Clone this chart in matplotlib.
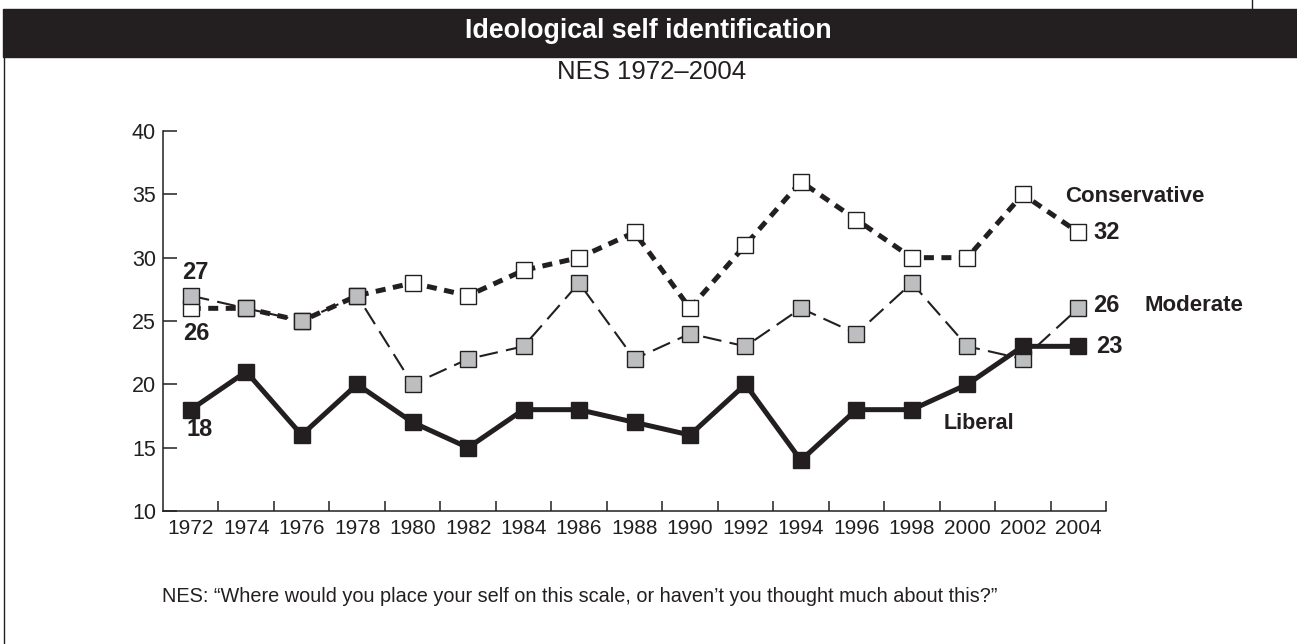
import numpy as np
import matplotlib
matplotlib.use("Agg")
import matplotlib.pyplot as plt
from matplotlib.patches import Rectangle
from matplotlib.lines import Line2D

plt.rcParams['font.family'] = ['Liberation Sans', 'DejaVu Sans']

# data
years = ['1972', '1974', '1976', '1978', '1980', '1982', '1984', '1986', '1988',
         '1990', '1992', '1994', '1996', '1998', '2000', '2002', '2004']
liberal = [18, 21, 16, 20, 17, 15, 18, 18, 17, 16, 20, 14, 18, 18, 20, 23, 23]
moderate = [27, 26, 25, 27, 20, 22, 23, 28, 22, 24, 23, 26, 24, 28, 23, 22, 26]
conservative = [26, 26, 25, 27, 28, 27, 29, 30, 32, 26, 31, 36, 33, 30, 30, 35, 32]
yticks = [10, 15, 20, 25, 30, 35, 40]

ink = '#231f20'
gray = '#bcbec0'

fig = plt.figure(figsize=(12.97, 6.44), dpi=100)
ax = fig.add_axes([163 / 1297, 1 - 511 / 644, (1106 - 163) / 1297, (511 - 131) / 644])

x = np.arange(len(years))

ax.plot(x, conservative, color=ink, lw=3.6, dashes=(2.0, 1.5),
        marker='s', ms=11, mfc='white', mec=ink, mew=1, zorder=2)
ax.plot(x, moderate, color=ink, lw=1.5, dashes=(9, 4),
        marker='s', ms=11, mfc=gray, mec=ink, mew=1, zorder=3)
ax.plot(x, liberal, color=ink, lw=3.6,
        marker='s', ms=11, mfc=ink, mec=ink, mew=1, zorder=4)

ax.set_xlim(-0.5, len(years) - 0.5)
ax.set_ylim(10, 40)
ax.set_xticks(x)
ax.set_xticklabels(years)
ax.set_xticks(np.arange(0.5, len(years), 1), minor=True)
ax.set_yticks(yticks)

for s in ['top', 'right']:
    ax.spines[s].set_visible(False)
for s in ['left', 'bottom']:
    ax.spines[s].set_color(ink)
    ax.spines[s].set_linewidth(1.1)

ax.tick_params(axis='x', which='major', length=0, pad=6, labelsize=15, labelcolor=ink)
ax.tick_params(axis='x', which='minor', direction='in', length=7, width=1.1, color=ink)
ax.tick_params(axis='y', direction='in', length=10, width=1.1, color=ink,
               pad=5, labelsize=15.5, labelcolor=ink)

# labels on the lines
bold = dict(fontweight='bold', color=ink, va='center', ha='left')
ax.text(-0.16, 28.8, '27', fontsize=17, **bold)
ax.text(-0.14, 24.05, '26', fontsize=17, **bold)
ax.text(-0.07, 16.4, '18', fontsize=17, **bold)
ax.text(16.27, 32, '32', fontsize=17, **bold)
ax.text(16.27, 26.25, '26', fontsize=17, **bold)
ax.text(16.32, 23, '23', fontsize=17, **bold)
ax.text(15.76, 34.8, 'Conservative', fontsize=16, **bold)
ax.text(17.2, 26.25, 'Moderate', fontsize=16, **bold)
ax.text(13.58, 16.9, 'Liberal', fontsize=15.5, **bold)

# title bar and frame
fig.patches.append(Rectangle((3 / 1297, 1 - 57 / 644), 1, 48 / 644,
                             transform=fig.transFigure, color=ink, zorder=0))
fig.lines.append(Line2D([3.5 / 1297, 3.5 / 1297], [0, 1 - 57 / 644],
                        transform=fig.transFigure, color=ink, lw=1))
fig.lines.append(Line2D([1252 / 1297, 1252 / 1297], [1 - 10 / 644, 1],
                        transform=fig.transFigure, color=ink, lw=1))

fig.text(0.5, 1 - 31 / 644, 'Ideological self identification', color='white',
         fontsize=19.3, fontweight='bold', ha='center', va='center')
fig.text(652 / 1297, 1 - 72 / 644, 'NES 1972\u20132004', color=ink,
         fontsize=18.5, ha='center', va='center')
fig.text(162 / 1297, 1 - 597 / 644,
         'NES: \u201cWhere would you place your self on this scale, or haven\u2019t you thought much about this?\u201d',
         color=ink, fontsize=14.3, ha='left', va='center')

fig.savefig('out.png', dpi=100)
